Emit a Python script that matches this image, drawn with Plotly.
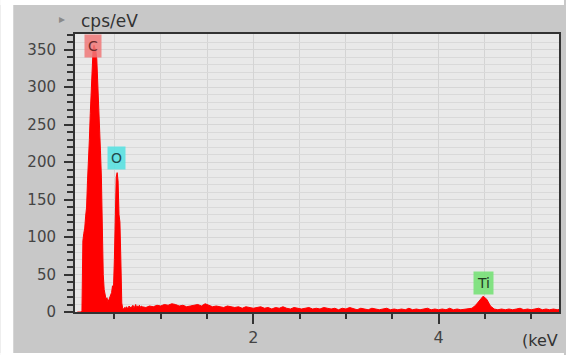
import numpy as np
import plotly.graph_objects as go

# ---- data ----
# fine channels: 0.10 .. 0.79 keV, step 0.01
fine_start, fine_step = 0.10, 0.01
fine_counts = [
    0, 0, 0, 0, 0, 2, 95, 105, 112, 128,               # 0.10-0.19
    140, 175, 195, 230, 265, 300, 332, 350, 356, 353,  # 0.20-0.29
    348, 338, 310, 290, 250, 215, 180, 110, 50, 30,    # 0.30-0.39
    22, 17, 19, 14, 16, 19, 22, 26, 35, 30,            # 0.40-0.49
    70, 125, 180, 186, 175, 130, 120, 70, 12, 5,       # 0.50-0.59
    4, 6, 5, 7, 5, 6, 8, 5, 7, 6,                      # 0.60-0.69
    9, 6, 7, 10, 6, 8, 7, 9, 6, 8,                     # 0.70-0.79
]
# coarse channels: 0.80 .. 5.32 keV, step 0.04
coarse_start, coarse_step = 0.80, 0.04
coarse_counts = [
    7, 6, 8, 7, 9, 8, 10, 9, 11, 10,
    8, 9, 7, 8, 9, 10, 8, 11, 9, 7,
    8, 7, 6, 8, 7, 6, 7, 5, 7, 6,
    5, 6, 7, 5, 6, 4, 6, 5, 7, 5,
    4, 6, 5, 4, 5, 6, 4, 5, 4, 6,
    5, 4, 5, 3, 5, 4, 6, 4, 3, 5,
    4, 3, 5, 4, 3, 4, 5, 3, 4, 3,
    4, 3, 5, 3, 4, 3, 4, 5, 3, 4,
    3, 4, 3, 5, 3, 4, 3, 4, 5, 5,
    9, 15, 21, 17, 8, 4, 3, 4, 3, 4,
    3, 4, 5, 3, 4, 3, 4, 5, 3, 4,
    3, 4, 3, 4,
]
peak_labels = ["C", "O", "Ti"]
peak_energy = [0.27, 0.527, 4.48]
peak_label_y = [355, 205, 39]
peak_colors = ["rgba(240,120,120,0.85)", "rgba(90,225,225,0.9)", "rgba(120,225,120,0.9)"]
peak_text_colors = ["#6a2a2a", "#1f4a4a", "#1f3a1f"]
x_ticks = [2, 4]
y_ticks = [0, 50, 100, 150, 200, 250, 300, 350]

energy = np.concatenate([
    fine_start + fine_step * np.arange(len(fine_counts)),
    coarse_start + coarse_step * np.arange(len(coarse_counts)),
])
counts = np.array(fine_counts + coarse_counts, dtype=float)

W, H = 566, 355
L, R, T, B = 75, 5, 34, 43
pw, ph = W - L - R, H - T - B

def px(xp):  # pixel x -> paper x
    return (xp - L) / pw

def py(yp):  # pixel y -> paper y
    return (H - B - yp) / ph

FONT = "DejaVu Sans, Verdana, sans-serif"

fig = go.Figure()
fig.add_trace(go.Scatter(
    x=energy, y=counts, mode="lines", fill="tozeroy",
    line=dict(color="#ff0000", width=1), fillcolor="#ff0000",
    hoverinfo="skip", showlegend=False,
))

for lab, e, yv, c, tc in zip(peak_labels, peak_energy, peak_label_y, peak_colors, peak_text_colors):
    fig.add_annotation(x=e, y=yv, text=lab, showarrow=False,
                       bgcolor=c, borderpad=3,
                       font=dict(family=FONT, size=14, color=tc))

fig.update_xaxes(
    range=[0.075, 5.30], tickvals=x_ticks, ticktext=[str(v) for v in x_ticks],
    ticks="outside", ticklen=10, tickwidth=1.5, tickcolor="#333333",
    tickfont=dict(family=FONT, size=16, color="#444444"),
    showline=True, linecolor="#333333", linewidth=2, mirror=True,
    showgrid=True, gridcolor="#d4d4d4", gridwidth=1, zeroline=False,
    minor=dict(dtick=0.5, tick0=0, ticks="outside", ticklen=5, tickcolor="#333333",
               showgrid=True, gridcolor="#d4d4d4"),
)
fig.update_yaxes(
    range=[0, 371], tickvals=y_ticks,
    ticks="outside", ticklen=9, tickwidth=1.5, tickcolor="#333333",
    tickfont=dict(family=FONT, size=15, color="#444444"),
    showline=True, linecolor="#333333", linewidth=2, mirror=True,
    showgrid=True, gridcolor="#d6d6d6", gridwidth=1, zeroline=False,
    ticklabelstandoff=5,
    minor=dict(dtick=10, tick0=0, ticks="outside", ticklen=6, tickcolor="#333333",
               showgrid=True, gridcolor="#d9d9d9"),
)

shapes = [
    # white strips around the grey panel
    dict(type="rect", xref="paper", yref="paper", x0=px(0), x1=px(13), y0=py(H), y1=py(0),
         fillcolor="white", line=dict(width=0), layer="below"),
    dict(type="rect", xref="paper", yref="paper", x0=px(0), x1=px(W), y0=py(5), y1=py(0),
         fillcolor="white", line=dict(width=0), layer="below"),
    dict(type="rect", xref="paper", yref="paper", x0=px(0), x1=px(W), y0=py(H), y1=py(353),
         fillcolor="white", line=dict(width=0), layer="below"),
]

fig.add_annotation(xref="paper", yref="paper", x=px(79), y=py(21), xanchor="left", yanchor="middle",
                   text="cps/eV", showarrow=False,
                   font=dict(family=FONT, size=17, color="#333333"))
fig.add_annotation(xref="paper", yref="paper", x=px(62), y=py(19), xanchor="center", yanchor="middle",
                   text="▸", showarrow=False,
                   font=dict(family=FONT, size=12, color="#8a8a8a"))
fig.add_annotation(xref="paper", yref="paper", x=px(522), y=py(340), xanchor="left", yanchor="middle",
                   text="(keV", showarrow=False,
                   font=dict(family=FONT, size=16, color="#333333"))

fig.update_layout(
    width=W, height=H, margin=dict(l=L, r=R, t=T, b=B, pad=0),
    paper_bgcolor="#c8c8c8", plot_bgcolor="#e9e9e9",
    shapes=shapes, showlegend=False,
)
fig.write_html("out.html", config={"displayModeBar": False},
               post_script="document.body.style.margin='0px';")
